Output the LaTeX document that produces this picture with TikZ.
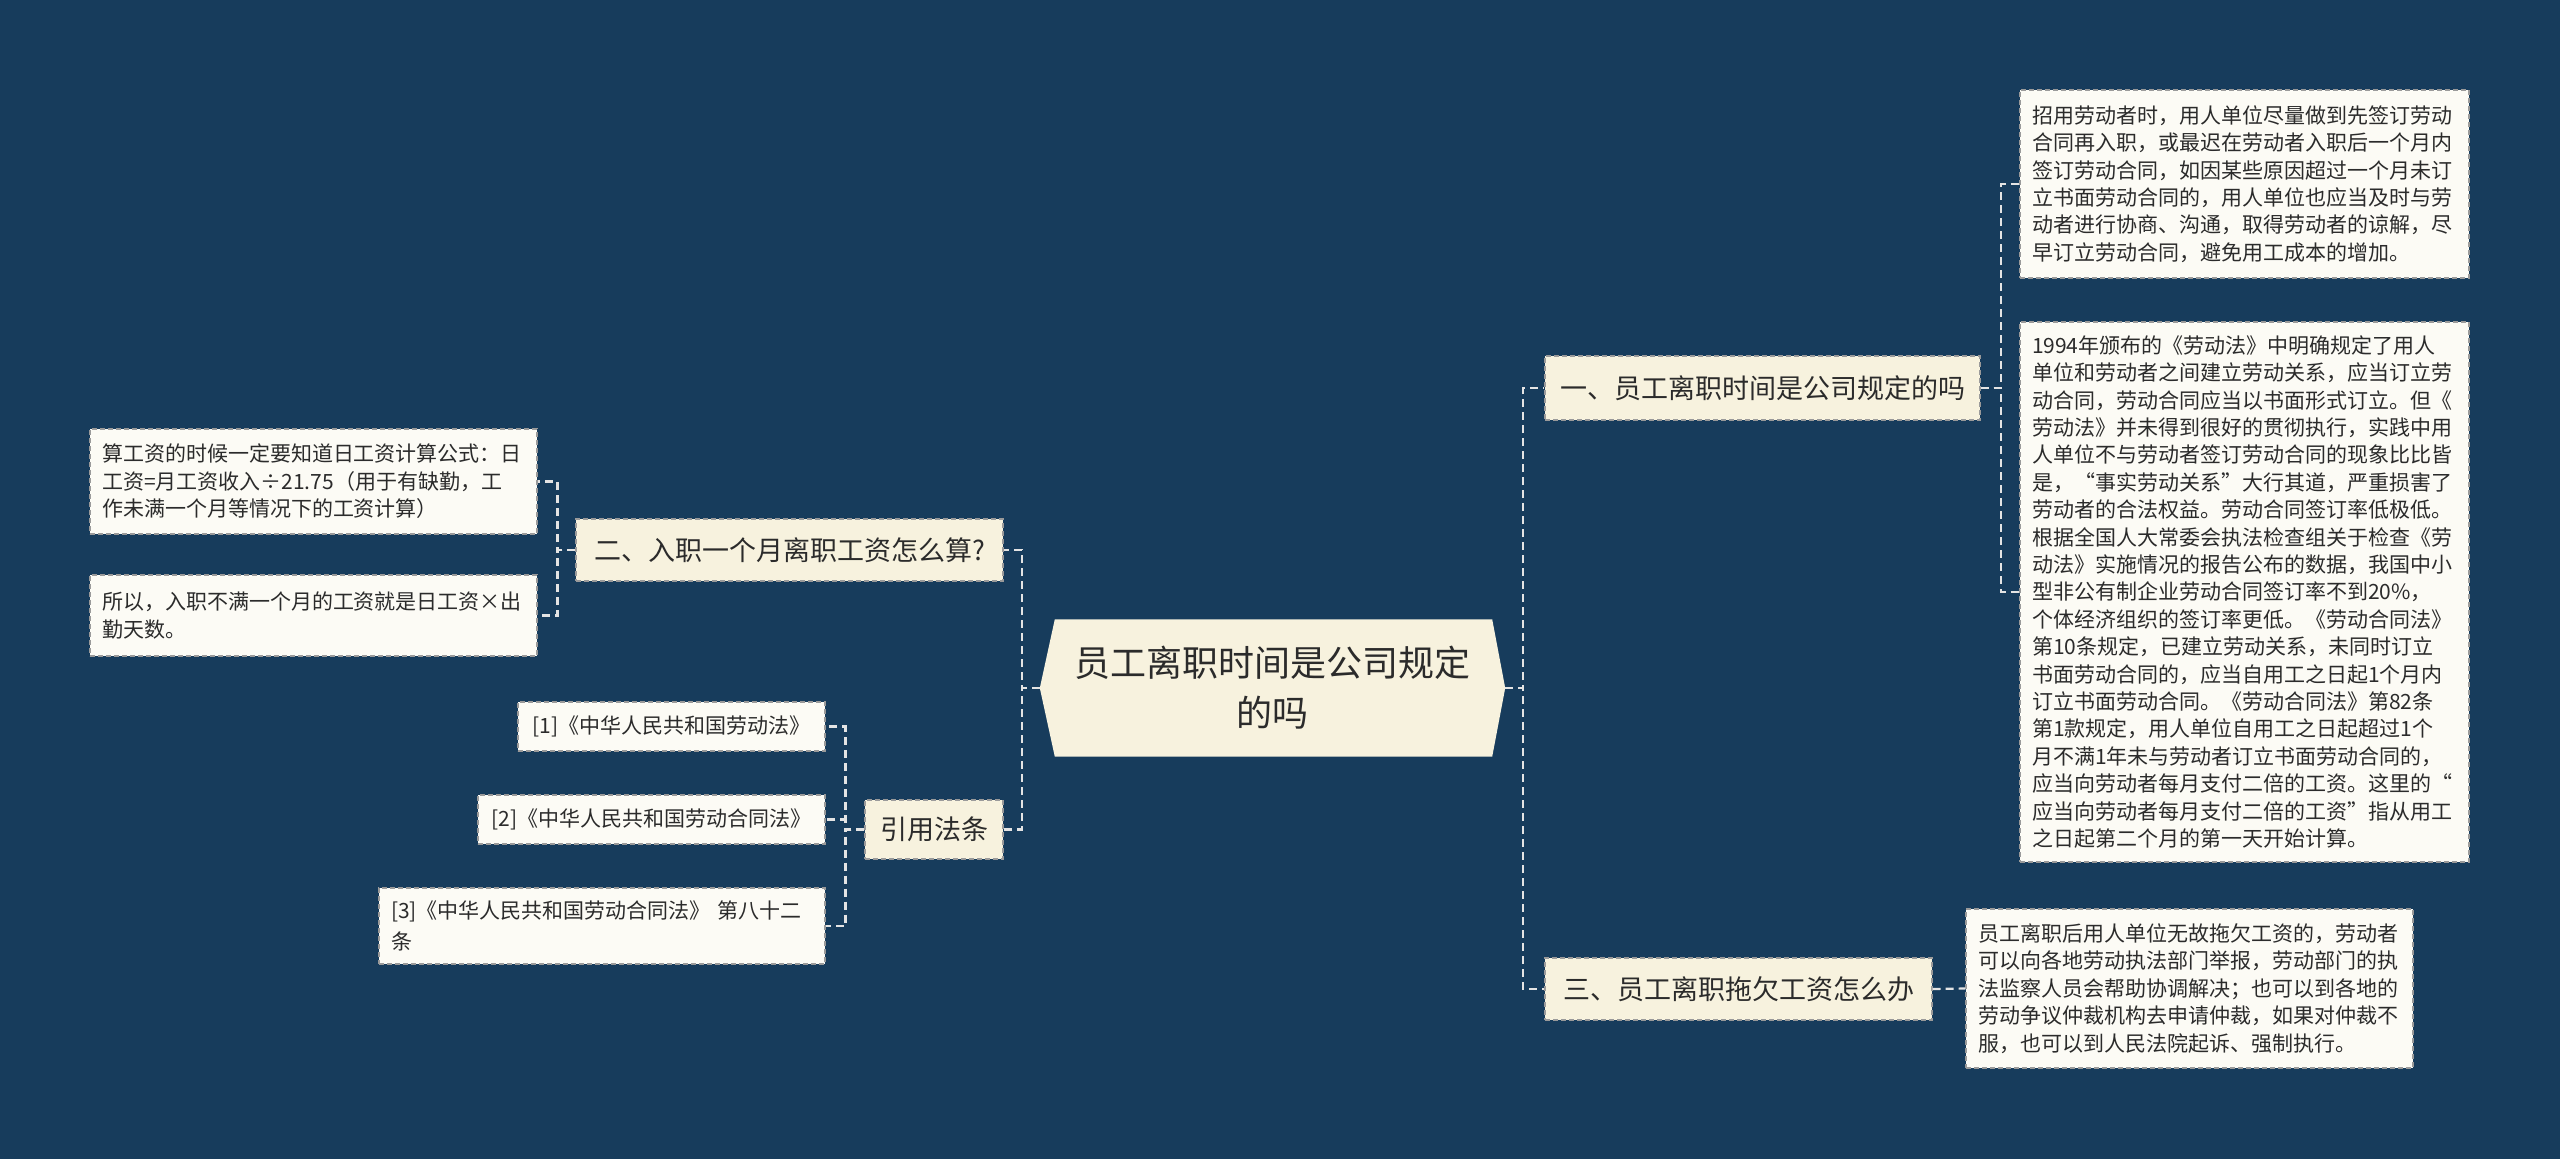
\documentclass[tikz,border=0pt]{standalone}
\usepackage{fontspec}
\setmainfont{Noto Sans CJK SC}
\usetikzlibrary{backgrounds}
\definecolor{bgc}{HTML}{173C5C}
\definecolor{lvlfill}{HTML}{F7F2DE}
\definecolor{leaffill}{HTML}{FCFBF5}
\definecolor{bordc}{HTML}{9A9A9A}
\definecolor{connc}{HTML}{E4E4E4}
\definecolor{txtc}{HTML}{2B2B2B}
\tikzset{
  conn/.style={draw=connc, line width=2.2pt, dash pattern=on 8pt off 5pt},
  lvl/.style={fill=lvlfill, draw=bordc, line width=1.2pt, dash pattern=on 5pt off 3pt,
    font=\fontsize{27}{32}\selectfont, text=txtc, inner sep=0pt, align=center},
  leaf/.style={fill=leaffill, draw=bordc, line width=1.2pt, dash pattern=on 5pt off 3pt,
    font=\fontsize{21}{27.4}\selectfont, text=txtc, inner xsep=12pt, inner ysep=0pt, align=left},
  refleaf/.style={fill=leaffill, draw=bordc, line width=1.2pt, dash pattern=on 5pt off 3pt,
    font=\fontsize{21}{27.4}\selectfont, text=txtc, inner sep=0pt, align=center}
}
\begin{document}
\begin{tikzpicture}[x=1pt,y=-1pt]
\useasboundingbox (0,0) rectangle (2560,1159);

% center
\node (c) at (1272.5,688) [minimum width=465pt, minimum height=137pt, inner sep=0pt,
  font=\fontsize{36}{50}\selectfont, text=txtc, align=center] {员工离职时间是公司规定\\的吗};

% level 1
\node[lvl, minimum width=435pt, minimum height=64pt] (n1) at (1762.5,388) {一、员工离职时间是公司规定的吗};
\node[lvl, minimum width=387pt, minimum height=62pt] (n3) at (1738.5,989) {三、员工离职拖欠工资怎么办};
\node[lvl, minimum width=427pt, minimum height=62pt] (n2) at (789.5,550) {二、入职一个月离职工资怎么算?};
\node[lvl, minimum width=138pt, minimum height=59pt] (ny) at (934,829.5) {引用法条};

% right leaves
\node[leaf, text width=425pt, minimum height=188pt] (r1) at (2244.5,184) {招用劳动者时，用人单位尽量做到先签订劳动\\合同再入职，或最迟在劳动者入职后一个月内\\签订劳动合同，如因某些原因超过一个月未订\\立书面劳动合同的，用人单位也应当及时与劳\\动者进行协商、沟通，取得劳动者的谅解，尽\\早订立劳动合同，避免用工成本的增加。};
\node[leaf, text width=425pt, minimum height=540pt] (r2) at (2244.5,592) {1994年颁布的《劳动法》中明确规定了用人\\单位和劳动者之间建立劳动关系，应当订立劳\\动合同，劳动合同应当以书面形式订立。但《\\劳动法》并未得到很好的贯彻执行，实践中用\\人单位不与劳动者签订劳动合同的现象比比皆\\是，“事实劳动关系”大行其道，严重损害了\\劳动者的合法权益。劳动合同签订率低极低。\\根据全国人大常委会执法检查组关于检查《劳\\动法》实施情况的报告公布的数据，我国中小\\型非公有制企业劳动合同签订率不到20\%，\\个体经济组织的签订率更低。《劳动合同法》\\第10条规定，已建立劳动关系，未同时订立\\书面劳动合同的，应当自用工之日起1个月内\\订立书面劳动合同。《劳动合同法》第82条\\第1款规定，用人单位自用工之日起超过1个\\月不满1年未与劳动者订立书面劳动合同的，\\应当向劳动者每月支付二倍的工资。这里的“\\应当向劳动者每月支付二倍的工资”指从用工\\之日起第二个月的第一天开始计算。};
\node[leaf, text width=423pt, minimum height=159pt] (r3) at (2189.5,988.5) {员工离职后用人单位无故拖欠工资的，劳动者\\可以向各地劳动执法部门举报，劳动部门的执\\法监察人员会帮助协调解决；也可以到各地的\\劳动争议仲裁机构去申请仲裁，如果对仲裁不\\服，也可以到人民法院起诉、强制执行。};

% left leaves
\node[leaf, text width=423pt, minimum height=105pt] (l1) at (313.5,481.5) {算工资的时候一定要知道日工资计算公式：日\\工资=月工资收入÷21.75（用于有缺勤，工\\作未满一个月等情况下的工资计算）};
\node[leaf, text width=423pt, minimum height=81pt] (l2) at (313.5,615.5) {所以，入职不满一个月的工资就是日工资×出\\勤天数。};

% references
\node[refleaf, minimum width=307pt, minimum height=49pt] (f1) at (671.5,726.5) {[1]《中华人民共和国劳动法》};
\node[refleaf, minimum width=347pt, minimum height=49pt] (f2) at (651.5,819.5) {[2]《中华人民共和国劳动合同法》};
\node[leaf, text width=422pt, minimum height=76pt, font=\fontsize{21}{31}\selectfont] (f3) at (602,926) {[3]《中华人民共和国劳动合同法》 第八十二\\条};

% connectors
\draw[conn] (c.east) -- ++(18,0) |- (n1.west);
\draw[conn] (c.east) -- ++(18,0) |- (n3.west);
\draw[conn] (c.west) -- ++(-18,0) |- (n2.east);
\draw[conn] (c.west) -- ++(-18,0) |- (ny.east);
\draw[conn] (n1.east) -- ++(20,0) |- (r1.west);
\draw[conn] (n1.east) -- ++(20,0) |- (r2.west);
\draw[conn] (n3.east) -- (r3.west);
\draw[conn] (n2.west) -- ++(-18,0) |- (l1.east);
\draw[conn] (n2.west) -- ++(-18,0) |- (l2.east);
\draw[conn] (ny.west) -- ++(-19,0) |- (f1.east);
\draw[conn] (ny.west) -- ++(-19,0) |- (f2.east);
\draw[conn] (ny.west) -- ++(-19,0) |- (f3.east);

\begin{scope}[on background layer]
\fill[bgc] (0,0) rectangle (2560,1159);
\fill[lvlfill] (c.west) -- ([xshift=15pt]c.north west) -- ([xshift=-13pt]c.north east) -- (c.east)
  -- ([xshift=-13pt]c.south east) -- ([xshift=15pt]c.south west) -- cycle;
\end{scope}
\end{tikzpicture}
\end{document}
